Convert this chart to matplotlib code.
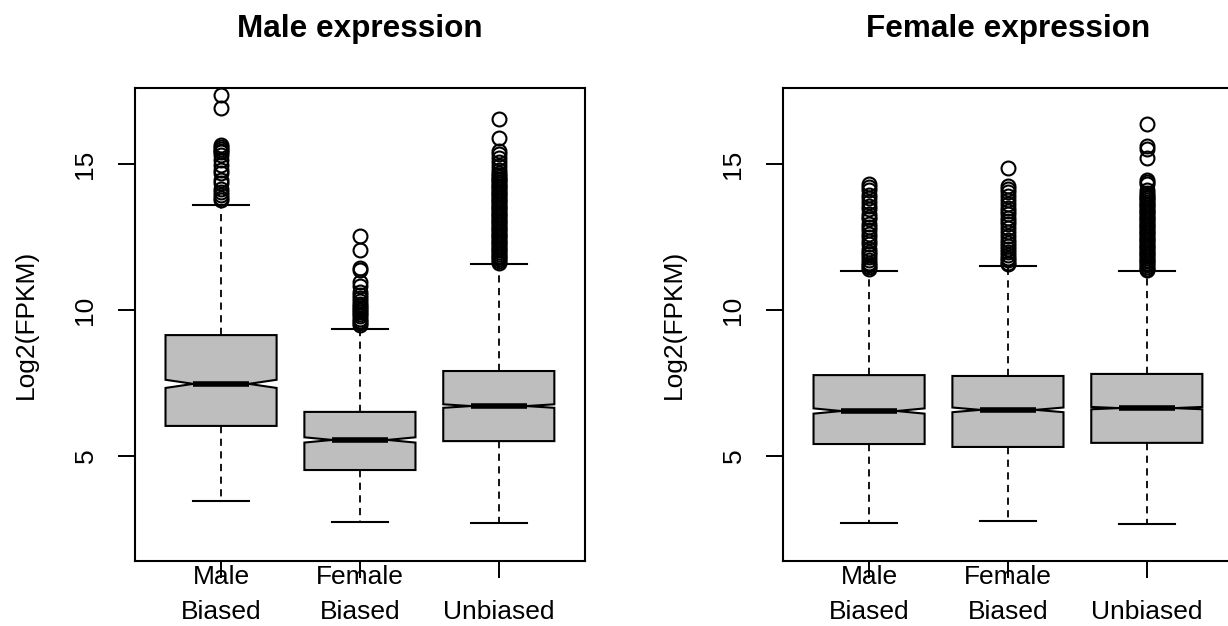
import matplotlib

matplotlib.use("Agg")

import matplotlib.pyplot as plt

plt.rcParams['font.family'] = ['Liberation Sans', 'DejaVu Sans']

group_labels = ['Male\nBiased', 'Female\nBiased', '\nUnbiased']
positions = [1, 2, 3]

# Male expression: box summaries per gene group (log2 FPKM)
male_q1 = [6.03, 4.52, 5.51]
male_med = [7.47, 5.55, 6.71]
male_q3 = [9.14, 6.51, 7.91]
male_whislo = [3.46, 2.74, 2.71]
male_whishi = [13.60, 9.35, 11.58]
male_notch = [0.14, 0.09, 0.06]
male_out_mb = [17.36, 16.90, 15.65, 15.58, 15.52, 15.46, 15.40, 15.30, 15.15, 14.95,
               14.80, 14.70, 14.45, 14.35, 14.15, 14.05, 13.95, 13.85, 13.78]
male_out_fb = [12.55, 12.05, 11.45, 11.38, 10.95, 10.82, 10.62, 10.50, 10.40, 10.30,
               10.22, 10.15, 10.08, 10.00, 9.92, 9.85, 9.78, 9.70, 9.62, 9.55, 9.48]
male_out_ub = [16.54, 15.89, 15.45, 15.35, 15.20, 15.08, 14.92, 14.80, 14.70,
               14.62, 14.56, 14.50, 14.44, 14.38, 14.32, 14.26, 14.20, 14.14, 14.08,
               14.02, 13.96, 13.90, 13.84, 13.78, 13.72, 13.66, 13.60, 13.54, 13.48,
               13.42, 13.36, 13.30, 13.24, 13.18, 13.12, 13.06, 13.00, 12.94, 12.88,
               12.82, 12.76, 12.70, 12.64, 12.58, 12.52, 12.46, 12.40, 12.34, 12.28,
               12.22, 12.16, 12.10, 12.04, 11.98, 11.92, 11.86, 11.80, 11.74, 11.68,
               11.62]

# Female expression
female_q1 = [5.41, 5.31, 5.45]
female_med = [6.54, 6.58, 6.64]
female_q3 = [7.77, 7.74, 7.81]
female_whislo = [2.69, 2.77, 2.67]
female_whishi = [11.34, 11.50, 11.34]
female_notch = [0.09, 0.08, 0.04]
female_out_mb = [14.30, 14.22, 14.12, 13.95, 13.85, 13.70, 13.55, 13.45, 13.30, 13.20,
                 13.10, 12.95, 12.85, 12.75, 12.60, 12.50, 12.35, 12.25, 12.10, 12.00,
                 11.90, 11.80, 11.72, 11.62, 11.55, 11.48, 11.42]
female_out_fb = [14.86, 14.25, 14.15, 14.05, 13.90, 13.75, 13.62, 13.50, 13.40, 13.28,
                 13.15, 13.05, 12.95, 12.80, 12.68, 12.55, 12.40, 12.30, 12.20, 12.10,
                 11.98, 11.88, 11.78, 11.70, 11.62, 11.56]
female_out_ub = [16.37, 15.62, 15.50, 15.20, 14.45, 14.38, 14.30, 14.10, 14.02, 13.95,
                 13.88, 13.82, 13.76, 13.70, 13.64, 13.58, 13.52, 13.46, 13.40, 13.34,
                 13.28, 13.22, 13.16, 13.10, 13.04, 12.98, 12.92, 12.86, 12.80, 12.74,
                 12.68, 12.62, 12.56, 12.50, 12.44, 12.38, 12.32, 12.26, 12.20, 12.14,
                 12.08, 12.02, 11.96, 11.90, 11.84, 11.78, 11.72, 11.66, 11.60, 11.54,
                 11.48, 11.42, 11.36]

y_ticks = [5, 10, 15]

LABEL_SIZE = 19
TITLE_SIZE = 22.7


def draw_panel(ax, title, q1, med, q3, lo, hi, notch, outliers):
    stats = []
    for i in range(len(med)):
        stats.append(dict(q1=q1[i], med=med[i], q3=q3[i], whislo=lo[i], whishi=hi[i],
                          cilo=med[i] - notch[i], cihi=med[i] + notch[i],
                          fliers=outliers[i], label=group_labels[i]))
    ax.bxp(stats, positions=positions, widths=0.8, capwidths=0.4, shownotches=True,
           patch_artist=True, manage_ticks=False,
           boxprops=dict(facecolor='#BEBEBE', edgecolor='black', linewidth=1.5),
           medianprops=dict(color='black', linewidth=4, solid_capstyle='butt'),
           whiskerprops=dict(color='black', linewidth=1.3, linestyle=(0, (4, 3))),
           capprops=dict(color='black', linewidth=1.5),
           flierprops=dict(marker='o', markerfacecolor='none', markeredgecolor='black',
                           markersize=10, markeredgewidth=1.5, linestyle='none'))

    ax.set_xlim(0.38, 3.62)
    ax.set_ylim(1.404, 17.60)
    for sp in ax.spines.values():
        sp.set_linewidth(1.5)

    ax.set_xticks(positions)
    ax.set_xticklabels(group_labels, linespacing=1.55)
    ax.tick_params(axis='x', direction='out', length=12, width=1.4,
                   labelsize=LABEL_SIZE, pad=-9)
    ax.set_yticks(y_ticks)
    ax.set_yticklabels([str(t) for t in y_ticks], rotation=90, va='center')
    ax.tick_params(axis='y', direction='out', length=12, width=1.4,
                   labelsize=LABEL_SIZE, pad=15)

    ax.set_ylabel("Log2(FPKM)", fontsize=LABEL_SIZE, va='center')
    ax.yaxis.set_label_coords(-0.242, 0.5)
    ax.set_title(title, fontsize=TITLE_SIZE, fontweight='bold', pad=37)


fig = plt.figure(figsize=(12.28, 6.26), dpi=100)
ax1 = fig.add_axes([0.1099, 0.1038, 0.3664, 0.7556])
ax2 = fig.add_axes([0.6376, 0.1038, 0.3664, 0.7556])

draw_panel(ax1, "Male expression", male_q1, male_med, male_q3, male_whislo, male_whishi,
           male_notch, [male_out_mb, male_out_fb, male_out_ub])
draw_panel(ax2, "Female expression", female_q1, female_med, female_q3, female_whislo,
           female_whishi, female_notch, [female_out_mb, female_out_fb, female_out_ub])

fig.savefig("out.png", dpi=100)
